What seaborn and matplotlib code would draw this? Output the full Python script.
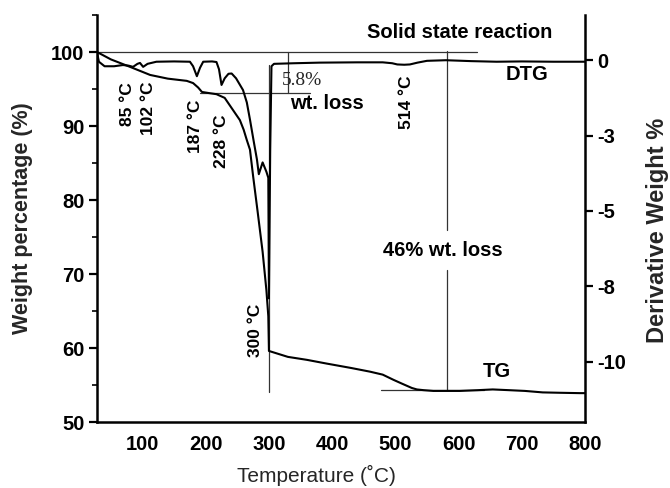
import numpy as np
import pandas as pd
import matplotlib
matplotlib.use("Agg")
import matplotlib.pyplot as plt
import seaborn as sns
from matplotlib.ticker import MultipleLocator, FixedLocator, FixedFormatter

# ---------------- data ----------------
tg_temp = [28, 50, 80, 112, 140, 170, 180, 188, 194, 205, 217, 230, 238, 246, 254, 260, 265,
           270, 275, 282, 290, 296, 299, 300, 330, 360, 391, 430, 460, 480, 497, 510, 518,
           526, 534, 545, 560, 580, 602, 630, 654, 680, 705, 733, 760, 792, 800]
tg_weight = [100, 99.0, 98.0, 96.9, 96.4, 96.1, 95.8, 95.2, 94.6, 94.45, 94.3, 93.8, 92.8,
             91.8, 90.8, 89.5, 88.1, 86.8, 83.2, 78.5, 73.0, 67.8, 64.3, 59.6, 58.8, 58.4,
             57.9, 57.3, 56.8, 56.4, 55.7, 55.2, 54.9, 54.6, 54.4, 54.3, 54.2, 54.2, 54.2,
             54.3, 54.4, 54.3, 54.2, 54.0, 53.95, 53.9, 53.9]

dtg_temp = [28, 31, 40, 55, 69, 78, 85, 92, 96, 101, 108, 122, 150, 175, 180, 186, 191, 196,
            210, 217, 221, 225, 230, 236, 241, 248, 259, 265, 270, 276, 281, 284, 290, 296,
            299, 300, 302, 304, 308, 340, 380, 440, 480, 495, 503, 514, 523, 535, 550, 580,
            620, 660, 700, 750, 800]
dtg_value = [0.26, -0.05, -0.2, -0.2, -0.16, -0.18, -0.22, -0.12, -0.09, -0.22, -0.12, -0.05,
             -0.04, -0.05, -0.2, -0.53, -0.25, -0.05, -0.04, -0.06, -0.3, -0.82, -0.6, -0.45,
             -0.44, -0.6, -0.99, -1.4, -1.97, -2.7, -3.29, -3.78, -3.39, -3.7, -3.9, -7.9,
             -3.0, -0.2, -0.12, -0.1, -0.08, -0.07, -0.07, -0.1, -0.14, -0.15, -0.14, -0.08,
             -0.02, 0.0, -0.03, -0.05, -0.04, -0.05, -0.05]

x_major = [100, 200, 300, 400, 500, 600, 700, 800]
y_left_major = [50, 60, 70, 80, 90, 100]
y_right_ticks = [0, -2.5, -5, -7.5, -10]
y_right_labels = ["0", "-3", "-5", "-8", "-10"]

tg_df = pd.DataFrame({"Temperature": tg_temp, "Weight": tg_weight})
dtg_df = pd.DataFrame({"Temperature": dtg_temp, "DTG": dtg_value})

# ---------------- style ----------------
sns.set_style("white")
plt.rcParams["font.family"] = ["Liberation Sans", "DejaVu Sans"]

fig = plt.figure(figsize=(6.7, 4.88), dpi=100)
ax = fig.add_axes([97 / 670, 1 - 422 / 488, (585 - 97) / 670, (422 - 15) / 488])
ax2 = ax.twinx()

sns.lineplot(data=tg_df, x="Temperature", y="Weight", ax=ax, color="black",
             linewidth=1.5, estimator=None, sort=False)
sns.lineplot(data=dtg_df, x="Temperature", y="DTG", ax=ax2, color="black",
             linewidth=1.5, estimator=None, sort=False)

ax.set_xlim(28, 800)
ax.set_ylim(50, 105)
ax2.set_ylim(-12, 1.5)

# reference / annotation lines
ref_kw = dict(color="#333333", linewidth=0.9, zorder=1)
ax.plot([28, 629], [100, 100], **ref_kw)
ax.plot([191, 365], [94.4, 94.4], **ref_kw)
ax.plot([330, 330], [100, 94.4], **ref_kw)
ax.plot([300, 300], [98.2, 54.05], **ref_kw)
ax.plot([581, 581], [100.2, 75.9], **ref_kw)
ax.plot([581, 581], [70.5, 54.3], **ref_kw)
ax.plot([478, 640], [54.3, 54.3], **ref_kw)

# spines & ticks
for a in (ax, ax2):
    a.spines["top"].set_visible(False)
    for s in ("left", "right", "bottom"):
        a.spines[s].set_linewidth(1.8)
        a.spines[s].set_color("black")
ax.spines["right"].set_visible(False)
ax2.spines["left"].set_visible(False)
ax2.spines["bottom"].set_visible(False)

ax.xaxis.set_major_locator(FixedLocator(x_major))
ax.xaxis.set_minor_locator(MultipleLocator(50))
ax.yaxis.set_major_locator(FixedLocator(y_left_major))
ax.yaxis.set_minor_locator(MultipleLocator(5))
ax2.yaxis.set_major_locator(FixedLocator(y_right_ticks))
ax2.yaxis.set_major_formatter(FixedFormatter(y_right_labels))

ax.tick_params(axis="both", which="major", direction="out", length=6, width=1.6,
               labelsize=14.5, colors="black", pad=3)
ax.tick_params(axis="both", which="minor", direction="out", length=3.5, width=1.4)
ax2.tick_params(axis="y", which="major", direction="out", length=6, width=1.6,
                labelsize=14.5, colors="black", pad=3)
for lab in ax.get_xticklabels() + ax.get_yticklabels() + ax2.get_yticklabels():
    lab.set_fontweight("bold")

ax.set_xlabel("Temperature (˚C)", fontsize=15)
ax.set_ylabel("Weight percentage (%)", fontsize=15.5, fontweight="bold")
ax2.set_ylabel("Derivative Weight %", fontsize=17, fontweight="bold")
ax.yaxis.set_label_coords(-0.131, 0.5)
ax2.yaxis.set_label_coords(1.124, 0.47)
ax.xaxis.set_label_coords(0.45, -0.105)

# annotations
txt_kw = dict(fontsize=12.5, fontweight="bold", ha="center", va="center", color="black")
big = {**txt_kw, "fontsize": 14.5}
ax.text(75.5, 93.0, "85 °C", rotation=90, **txt_kw)
ax.text(108.7, 92.4, "102 °C", rotation=90, **txt_kw)
ax.text(184.6, 89.9, "187 °C", rotation=90, **txt_kw)
ax.text(224.2, 88.0, "228 °C", rotation=90, **txt_kw)
ax.text(278, 62.4, "300 °C", rotation=90, **txt_kw)
ax.text(517, 93.2, "514 °C", rotation=90, **txt_kw)
ax.text(352, 96.1, "5.8%", fontsize=14, family=["Liberation Serif", "DejaVu Serif"],
        ha="center", va="center")
ax.text(392, 93.0, "wt. loss", **big)
ax.text(602, 102.6, "Solid state reaction", **big)
ax.text(708, 97.0, "DTG", **big)
ax.text(661, 56.8, "TG", **big)
ax.text(575, 73.2, "46% wt. loss", **big)

fig.savefig("out.png", dpi=100)
